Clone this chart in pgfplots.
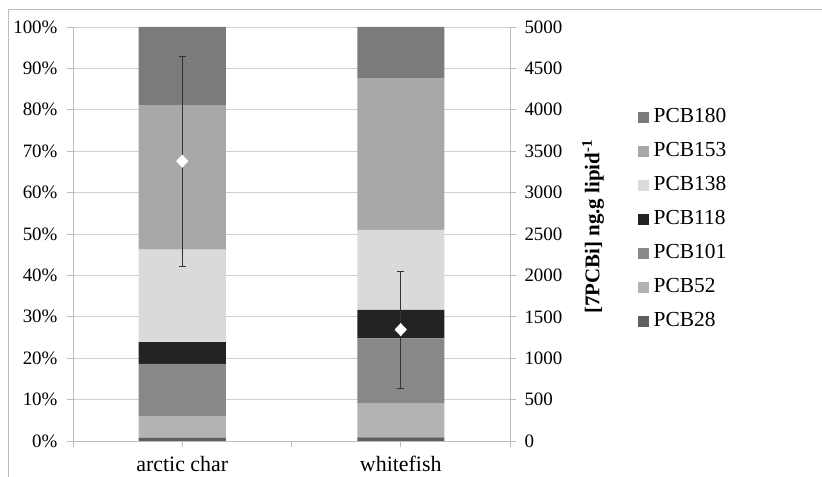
\documentclass[border=0pt]{standalone}
\usepackage{pgfplots}
\pgfplotsset{compat=1.18}
\usepackage{fontspec}
\setmainfont{Liberation Serif}
\definecolor{c180}{HTML}{7B7B7B}
\definecolor{c153}{HTML}{A8A8A8}
\definecolor{c138}{HTML}{DADADA}
\definecolor{c118}{HTML}{232323}
\definecolor{c101}{HTML}{888888}
\definecolor{c52}{HTML}{B3B3B3}
\definecolor{c28}{HTML}{5F5F5F}
\definecolor{axgray}{HTML}{BDBDBD}
\definecolor{gridgray}{HTML}{D0D0D0}
\begin{document}
\begin{tikzpicture}
\useasboundingbox (-73bp,-36bp) rectangle (749bp,441bp);
\draw[axgray, line width=0.8bp] (-65bp,-40bp) -- (-65bp,432bp) -- (760bp,432bp);
\begin{axis}[
  at={(0,0)}, anchor=south west,
  scale only axis, width=437bp, height=414bp,
  ybar stacked, bar width=87bp,
  xmin=-0.5, xmax=1.5, ymin=0, ymax=100,
  enlargelimits=false,
  xtick={0,1}, xticklabels={arctic char, whitefish},
  extra x ticks={-0.5,0.5,1.5}, extra x tick labels={},
  ytick={0,10,...,100},
  yticklabel={\pgfmathprintnumber{\tick}\%},
  /pgf/number format/assume math mode=true,
  ymajorgrids, grid style={color=gridgray, line width=0.8bp},
  axis x line*=bottom, axis y line*=left,
  axis line style={axgray, line width=0.8bp, -},
  tick align=outside, major tick length=6bp,
  tick style={axgray, line width=0.8bp},
  yticklabel style={font=\fontsize{19}{22}\selectfont, xshift=-6bp},
  xticklabel style={font=\fontsize{22}{26}\selectfont, yshift=-6bp},
  reverse legend,
  legend cell align=left,
  legend style={at={(axis description cs:1.293,0.808)}, anchor=north west,
    draw=none, fill=none, font=\fontsize{21.5}{24}\selectfont,
    row sep=12bp, inner sep=0pt,
    /tikz/every odd column/.append style={column sep=2.5bp},
    nodes={inner sep=2bp, text height=14bp, text depth=4bp}},
  legend image code/.code={\fill[#1] (-2.5bp,-5.5bp) rectangle (8.5bp,5.5bp);},
]
\addplot[fill=c28, draw=none] coordinates {(0,0.8) (1,0.9)};
\addplot[fill=c52, draw=none] coordinates {(0,5.1) (1,8.1)};
\addplot[fill=c101, draw=none] coordinates {(0,12.7) (1,15.8)};
\addplot[fill=c118, draw=none] coordinates {(0,5.3) (1,6.9)};
\addplot[fill=c138, draw=none] coordinates {(0,22.3) (1,19.3)};
\addplot[fill=c153, draw=none] coordinates {(0,34.9) (1,36.5)};
\addplot[fill=c180, draw=none] coordinates {(0,18.9) (1,12.5)};
\legend{PCB28,PCB52,PCB101,PCB118,PCB138,PCB153,PCB180}
\end{axis}
\begin{axis}[
  at={(0,0)}, anchor=south west,
  scale only axis, width=437bp, height=414bp,
  xmin=-0.5, xmax=1.5, ymin=0, ymax=5000,
  enlargelimits=false,
  axis x line=none, axis y line*=right,
  axis line style={axgray, line width=0.8bp, -},
  ytick={0,500,...,5000},
  scaled y ticks=false,
  /pgf/number format/1000 sep={},
  /pgf/number format/assume math mode=true,
  tick align=outside, major tick length=6bp,
  tick style={axgray, line width=0.8bp},
  yticklabel style={font=\fontsize{19}{22}\selectfont, xshift=5bp},
  clip=false,
]
\addplot[only marks, mark=diamond*, mark size=6.2bp,
  mark options={fill=white, draw=white, xscale=1.25},
  error bars/.cd, y dir=both, y explicit,
  error bar style={black!80, line width=0.6bp},
  error mark options={black!80, mark size=3.5bp, line width=0.6bp, rotate=90}]
  coordinates {(0,3380) +- (0,1272) (1,1345) +- (0,705)};
\node[rotate=90, font=\bfseries\fontsize{21}{24}\selectfont] at (axis description cs:1.19,0.517) {[7PCBi] ng.g lipid\textsuperscript{-1}};
\end{axis}
\end{tikzpicture}
\end{document}
